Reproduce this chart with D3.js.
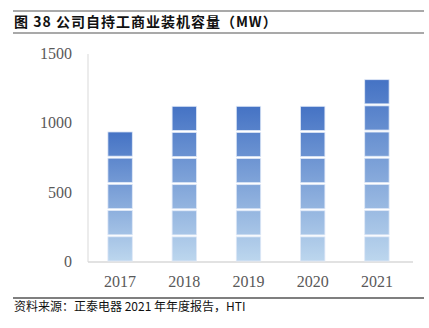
<!DOCTYPE html>
<html><head><meta charset="utf-8">
<script src="https://cdn.jsdelivr.net/npm/d3@7"></script>
<style>body{margin:0;background:#fff}svg{display:block}</style>
</head><body>
<svg id="c" width="429" height="328"></svg>
<script>
const years = ["2017","2018","2019","2020","2021"];
const capacity = [945, 1130, 1130, 1130, 1322];
const unitPerBlock = 189;
const yTicks = [0, 500, 1000, 1500];
const title = "图 38 公司自持工商业装机容量（MW）";
const source = "资料来源：正泰电器 2021 年年度报告，HTI";

const svg = d3.select("#c");
const x = d3.scaleBand().domain(years).range([88, 409]).paddingInner(0.62).paddingOuter(0.31);
const y = d3.scaleLinear().domain([0, 1500]).range([262, 54]);

// title & frame lines
svg.append("line").attr("x1",13).attr("x2",424).attr("y1",11).attr("y2",11).attr("stroke","#8c8c8c").attr("stroke-width",1.3);
svg.append("line").attr("x1",13).attr("x2",424).attr("y1",33).attr("y2",33).attr("stroke","#8c8c8c").attr("stroke-width",1.5);
svg.append("text").attr("x",14).attr("y",27).text(title)
  .attr("font-family","'Noto Sans CJK SC'").attr("font-weight","bold").attr("font-size",14)
  .attr("letter-spacing",1).attr("fill","#111");
svg.append("line").attr("x1",13).attr("x2",424).attr("y1",298).attr("y2",298).attr("stroke","#555").attr("stroke-width",1.3);
svg.append("text").attr("x",14).attr("y",311).text(source)
  .attr("font-family","'Noto Sans CJK SC'").attr("font-size",12).attr("fill","#111");

// axes
svg.append("line").attr("x1",88).attr("x2",88).attr("y1",y(1500)).attr("y2",y(0)).attr("stroke","#d9d9d9").attr("stroke-width",1);
svg.append("line").attr("x1",88).attr("x2",413).attr("y1",y(0)).attr("y2",y(0)).attr("stroke","#d9d9d9").attr("stroke-width",1.5);
svg.selectAll(".yt").data(yTicks).join("text").attr("class","yt")
  .attr("x",72).attr("y",d=>y(d)+5).attr("text-anchor","end").text(d=>d)
  .attr("font-family","'Liberation Serif'").attr("font-size",16).attr("fill","#595959");
svg.selectAll(".xt").data(years).join("text").attr("class","xt")
  .attr("x",d=>x(d)+x.bandwidth()/2).attr("y",287).attr("text-anchor","middle").text(d=>d)
  .attr("font-family","'Liberation Serif'").attr("font-size",16).attr("fill","#595959");

// gradients per bar
const defs = svg.append("defs");
years.forEach((yr,i)=>{
  const g = defs.append("linearGradient").attr("id","g"+i).attr("gradientUnits","userSpaceOnUse")
    .attr("x1",0).attr("x2",0).attr("y1",y(capacity[i])).attr("y2",y(0));
  g.append("stop").attr("offset","0%").attr("stop-color","#4472c4");
  g.append("stop").attr("offset","100%").attr("stop-color","#bdd7ee");
});

// pictorial stacked blocks
years.forEach((yr,i)=>{
  const n = Math.round(capacity[i]/unitPerBlock);
  const unit = capacity[i]/n;
  const blocks = d3.range(n).map(k=>({lo:k*unit, hi:(k+1)*unit}));
  svg.append("g").selectAll("rect").data(blocks).join("rect")
    .attr("x",x(yr)).attr("width",x.bandwidth())
    .attr("y",d=>y(d.hi)+1).attr("height",d=>y(d.lo)-y(d.hi)-2)
    .attr("fill","url(#g"+i+")").attr("stroke","#dfe8f7").attr("stroke-width",0.8);
});
</script>
</body></html>
